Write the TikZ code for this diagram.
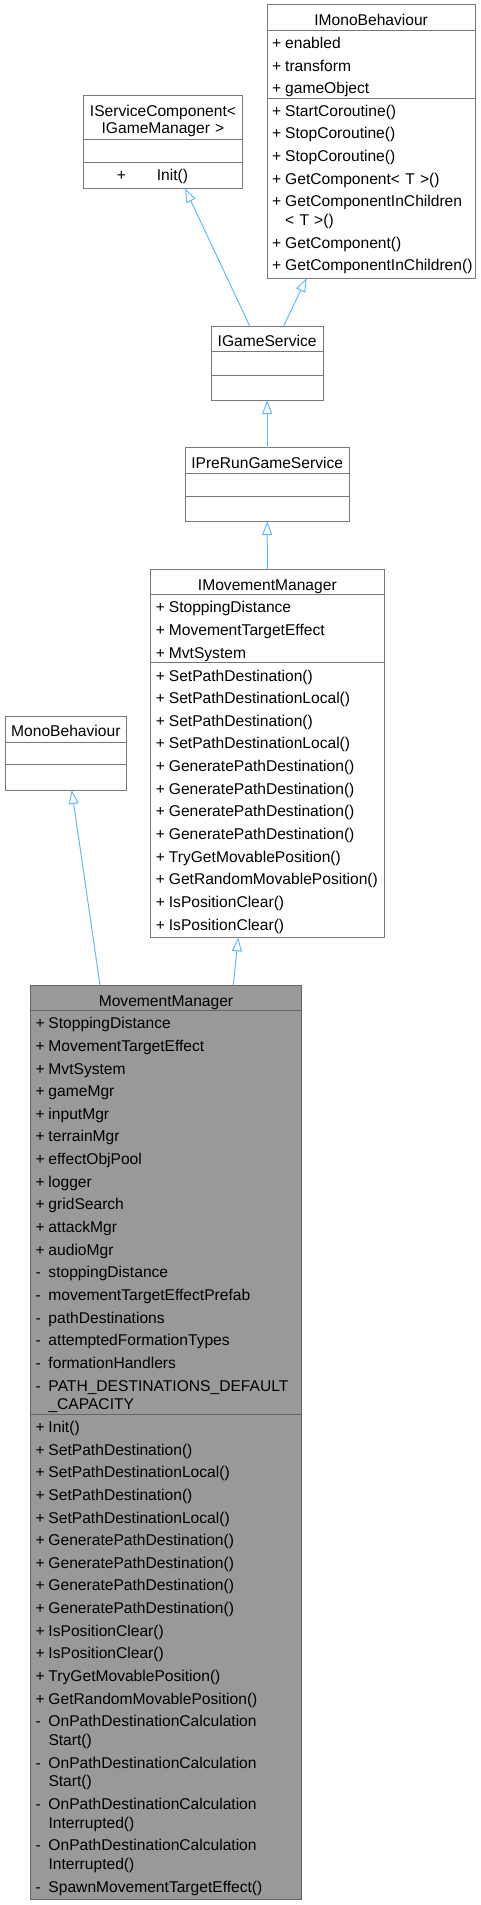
\documentclass[tikz,border=0pt]{standalone}
\usepackage{fontspec}
\setmainfont{Liberation Sans}
\usepackage{xcolor}
\usepackage{tikz}
\usetikzlibrary{arrows.meta, positioning, calc}

\definecolor{boxgray}{HTML}{777777}
\definecolor{curedge}{HTML}{666666}
\definecolor{curfill}{HTML}{999999}
\definecolor{edgeblue}{HTML}{63B8FF}

\newcommand{\umlfont}{\fontsize{15.6}{22.65}\selectfont}
\newcommand{\pubm}{\makebox[13pt][l]{+}}
\newcommand{\privm}{\makebox[13pt][l]{-}}
\newcommand{\contm}{\hspace*{13pt}}

\begin{document}
\begin{tikzpicture}[
	x=1pt, y=-1pt,
	umlbox/.style={draw=boxgray, line width=1pt, fill=white, inner sep=0pt, outer sep=0pt, anchor=north west},
	curbox/.style={umlbox, draw=curedge, fill=curfill},
	sepline/.style={draw=boxgray, line width=1pt},
	cursep/.style={draw=curedge, line width=1pt},
	title/.style={font=\umlfont, anchor=base, inner sep=0pt},
	members/.style={font=\umlfont, anchor=base west, inner sep=0pt, text width=300pt, align=left},
	inherit/.style={draw=edgeblue, line width=1pt, -{Triangle[open, length=14pt, width=10pt]}}
	]
	
	\useasboundingbox (0,0) rectangle (481,1905);
	
	% IMonoBehaviour
	\node[umlbox, minimum width=208.3pt, minimum height=273pt] (imb) at (267,5) {};
	\draw[sepline] ([yshift=-25.7pt]imb.north west) -- ([yshift=-25.7pt]imb.north east);
	\draw[sepline] ([yshift=-93.7pt]imb.north west) -- ([yshift=-93.7pt]imb.north east);
	\node[title] (imb-title) at (371.15,26) {IMonoBehaviour};
	\node[members] (imb-attr) at (272,48.6) {\pubm enabled\\ \pubm transform\\ \pubm gameObject};
	\node[members] (imb-ops) at (272,116.3) {\pubm StartCoroutine()\\ \pubm StopCoroutine()\\ \pubm StopCoroutine()\\
		\pubm GetComponent< T >()\\ \pubm GetComponentInChildren\\[-4pt] \contm< T >()\\
		\pubm GetComponent()\\ \pubm GetComponentInChildren()};
	
	% IServiceComponent< IGameManager >
	\node[umlbox, minimum width=159.4pt, minimum height=92.3pt] (isc) at (83.3,96) {};
	\draw[sepline] ([yshift=-44pt]isc.north west) -- ([yshift=-44pt]isc.north east);
	\draw[sepline] ([yshift=-67pt]isc.north west) -- ([yshift=-67pt]isc.north east);
	\node[title, text width=159.4pt, align=center, font=\fontsize{15.6}{17}\selectfont] (isc-title) at (163,117) {IServiceComponent<\\ IGameManager >};
	\node[members, text width=10pt] (isc-plus) at (116.7,180.5) {+};
	\node[members, text width=40pt] (isc-init) at (156.7,180.5) {Init()};
	
	% IGameService
	\node[umlbox, minimum width=112.3pt, minimum height=73.3pt] (gs) at (211,326.7) {};
	\draw[sepline] ([yshift=-25pt]gs.north west) -- ([yshift=-25pt]gs.north east);
	\draw[sepline] ([yshift=-48.3pt]gs.north west) -- ([yshift=-48.3pt]gs.north east);
	\node[title] (gs-title) at (267.15,346) {IGameService};
	
	% IPreRunGameService
	\node[umlbox, minimum width=164.3pt, minimum height=73.3pt] (prgs) at (185,447.7) {};
	\draw[sepline] ([yshift=-25.6pt]prgs.north west) -- ([yshift=-25.6pt]prgs.north east);
	\draw[sepline] ([yshift=-48.3pt]prgs.north west) -- ([yshift=-48.3pt]prgs.north east);
	\node[title] (prgs-title) at (267.15,468) {IPreRunGameService};
	
	% IMovementManager
	\node[umlbox, minimum width=233.3pt, minimum height=368pt] (imm) at (150.7,569.3) {};
	\draw[sepline] ([yshift=-25pt]imm.north west) -- ([yshift=-25pt]imm.north east);
	\draw[sepline] ([yshift=-93.4pt]imm.north west) -- ([yshift=-93.4pt]imm.north east);
	\node[title] (imm-title) at (267.35,590) {IMovementManager};
	\node[members] (imm-attr) at (155.7,612.7) {\pubm StoppingDistance\\ \pubm MovementTargetEffect\\ \pubm MvtSystem};
	\node[members] (imm-ops) at (155.7,681) {\pubm SetPathDestination()\\ \pubm SetPathDestinationLocal()\\
		\pubm SetPathDestination()\\ \pubm SetPathDestinationLocal()\\
		\pubm GeneratePathDestination()\\ \pubm GeneratePathDestination()\\
		\pubm GeneratePathDestination()\\ \pubm GeneratePathDestination()\\
		\pubm TryGetMovablePosition()\\ \pubm GetRandomMovablePosition()\\
		\pubm IsPositionClear()\\ \pubm IsPositionClear()};
	
	% MonoBehaviour
	\node[umlbox, minimum width=121.7pt, minimum height=73.3pt] (mb) at (5,716.7) {};
	\draw[sepline] ([yshift=-25.3pt]mb.north west) -- ([yshift=-25.3pt]mb.north east);
	\draw[sepline] ([yshift=-48pt]mb.north west) -- ([yshift=-48pt]mb.north east);
	\node[title] (mb-title) at (65.85,736.5) {MonoBehaviour};
	
	% MovementManager
	\node[curbox, minimum width=271.4pt, minimum height=914.5pt] (mm) at (30.3,985) {};
	\draw[cursep] ([yshift=-25.7pt]mm.north west) -- ([yshift=-25.7pt]mm.north east);
	\draw[cursep] ([yshift=-429pt]mm.north west) -- ([yshift=-429pt]mm.north east);
	\node[title] (mm-title) at (166,1006.5) {MovementManager};
	\node[members] (mm-attr) at (35.3,1028.7) {\pubm StoppingDistance\\ \pubm MovementTargetEffect\\ \pubm MvtSystem\\
		\pubm gameMgr\\ \pubm inputMgr\\ \pubm terrainMgr\\ \pubm effectObjPool\\ \pubm logger\\
		\pubm gridSearch\\ \pubm attackMgr\\ \pubm audioMgr\\
		\privm stoppingDistance\\ \privm movementTargetEffectPrefab\\ \privm pathDestinations\\
		\privm attemptedFormationTypes\\ \privm formationHandlers\\
		\privm PATH\_DESTINATIONS\_DEFAULT\\[-4pt] \contm\_CAPACITY};
	\node[members] (mm-ops) at (35.3,1432.4) {\pubm Init()\\ \pubm SetPathDestination()\\ \pubm SetPathDestinationLocal()\\
		\pubm SetPathDestination()\\ \pubm SetPathDestinationLocal()\\
		\pubm GeneratePathDestination()\\ \pubm GeneratePathDestination()\\
		\pubm GeneratePathDestination()\\ \pubm GeneratePathDestination()\\
		\pubm IsPositionClear()\\ \pubm IsPositionClear()\\
		\pubm TryGetMovablePosition()\\ \pubm GetRandomMovablePosition()\\
		\privm OnPathDestinationCalculation\\[-4pt] \contm Start()\\
		\privm OnPathDestinationCalculation\\[-4pt] \contm Start()\\
		\privm OnPathDestinationCalculation\\[-4pt] \contm Interrupted()\\
		\privm OnPathDestinationCalculation\\[-4pt] \contm Interrupted()\\
		\privm SpawnMovementTargetEffect()};
	
	% Inheritance arrows
	\draw[inherit] ([xshift=-17.15pt]gs.north) -- ([xshift=22pt]isc.south);
	\draw[inherit] ([xshift=16.15pt]gs.north) -- ([xshift=-64.45pt]imb.south);
	\draw[inherit] (prgs.north) -- (gs.south);
	\draw[inherit] (imm.north) -- (prgs.south);
	\draw[inherit] ([xshift=-66pt]mm.north) -- ([xshift=5.85pt]mb.south);
	\draw[inherit] ([xshift=67.3pt]mm.north) -- ([xshift=-29.05pt]imm.south);
	
\end{tikzpicture}
\end{document}
